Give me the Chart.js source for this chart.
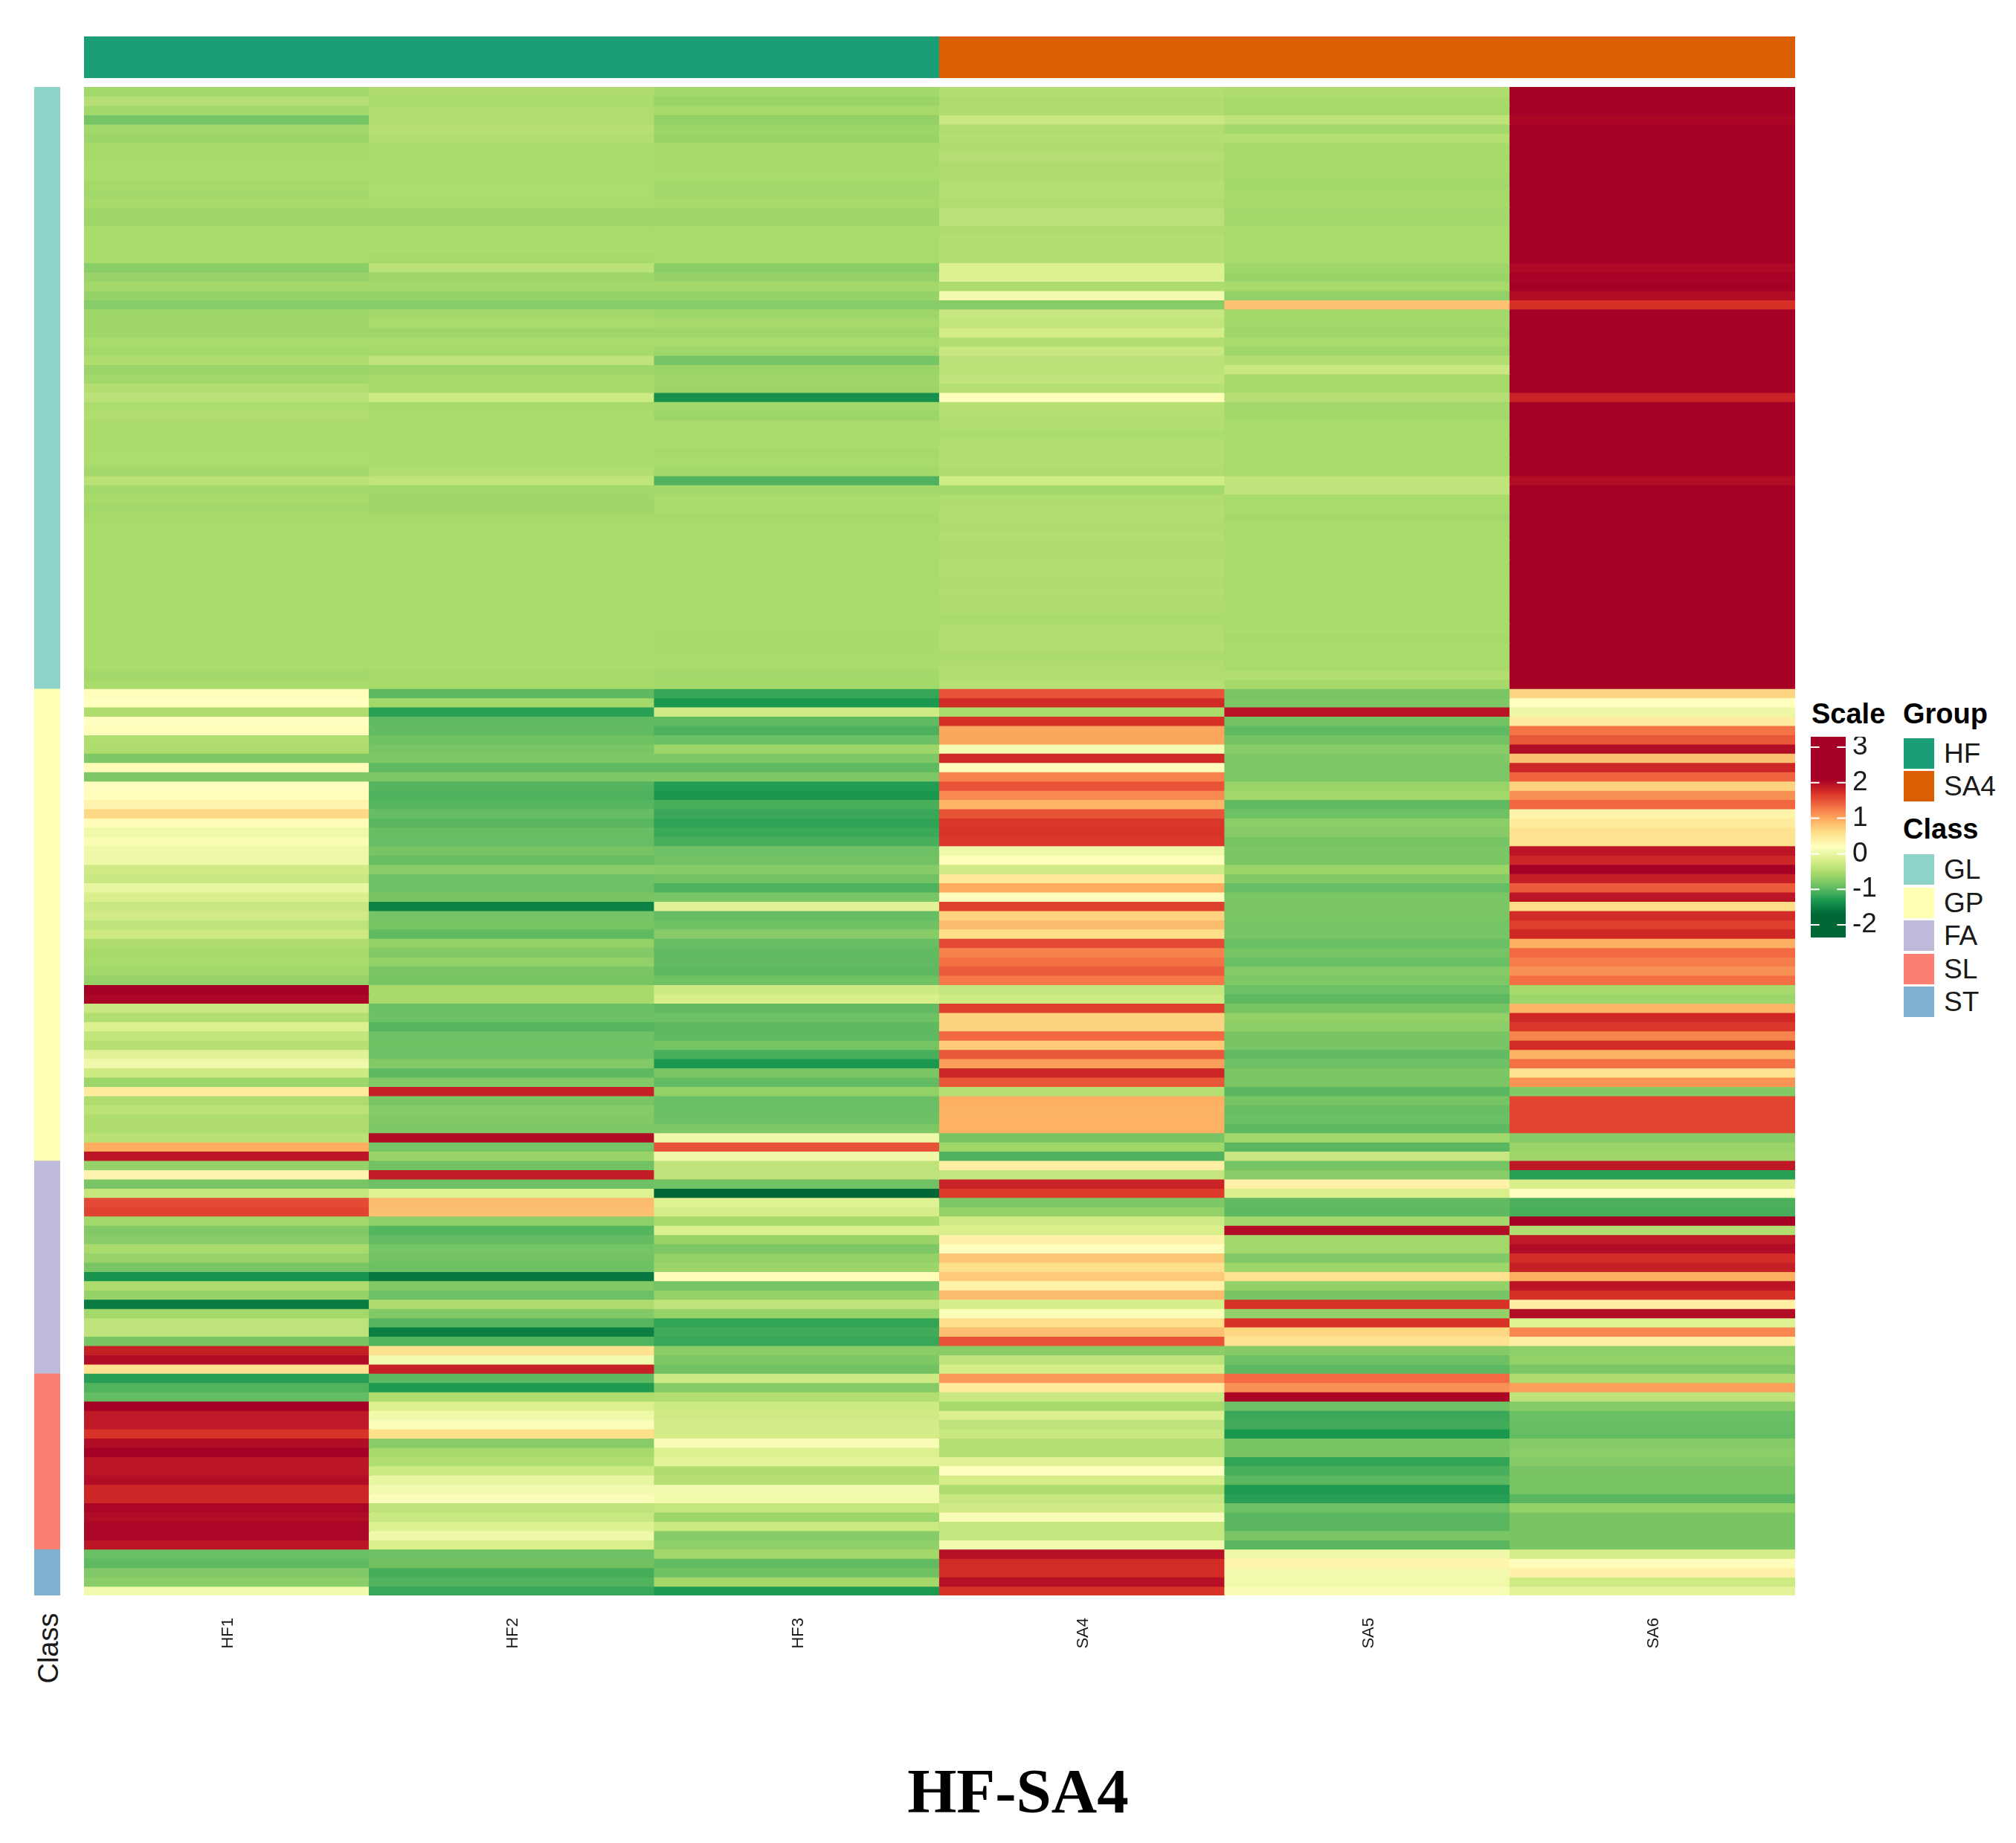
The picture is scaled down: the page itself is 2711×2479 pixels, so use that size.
<!DOCTYPE html>
<html>
<head>
<meta charset="utf-8">
<title>HF-SA4</title>
<script src="https://cdn.jsdelivr.net/npm/chart.js@4"></script>
<style>
  html, body { margin: 0; padding: 0; background: #fff; }
  body { position: relative; width: 2711px; height: 2479px; overflow: hidden; font-family: "Liberation Sans", sans-serif; }
  canvas { position: absolute; }
  .txt { position: absolute; white-space: nowrap; line-height: 42px; font-size: 37px; color: #1a1a1a; }
  .head { font-size: 38px; font-weight: bold; color: #000; }
  .swatch { position: absolute; width: 41px; height: 41px; }
  #classLabel { position: absolute; left: 15px; top: 2196px; width: 100px; text-align: center; font-size: 38px; line-height: 42px; color: #1a1a1a; transform: rotate(-90deg); }
  #title { position: absolute; left: 1069px; top: 2362px; width: 600px; text-align: center; font: bold 85px/94px "Liberation Serif", serif; color: #000; }
</style>
</head>
<body>
<canvas id="groupBar" width="2301" height="56" style="left:113px;top:49px"></canvas>
<canvas id="classBar" width="35" height="2029" style="left:46px;top:117px"></canvas>
<canvas id="heat" width="2301" height="2149" style="left:113px;top:117px"></canvas>
<canvas id="scaleBar" width="120" height="270" style="left:2435px;top:991px"></canvas>
<div id="legend"></div>
<div id="classLabel">Class</div>
<div id="title">HF-SA4</div>

<script>
// Data
const samples = ["HF1", "HF2", "HF3", "SA4", "SA5", "SA6"];
const sampleGroup = [0, 0, 0, 1, 1, 1];
const groupNames = ["HF", "SA4"];
const groupColors = ["#1b9e77", "#d95f02"];
const classNames = ["GL", "GP", "FA", "SL", "ST"];
const classColors = ["#8dd3c7", "#ffffb3", "#bebada", "#fb8072", "#80b1d3"];
const classCounts = [65, 51, 23, 19, 5];
const scaleTicks = [3, 2, 1, 0, -1, -2];

const HF1 = [
  -.58,-.45,-.58,-.85,-.58,-.62,-.55,-.55,-.53,-.53,
  -.56,-.58,-.55,-.59,-.59,-.53,-.53,-.53,-.53,-.72,
  -.64,-.57,-.66,-.74,-.60,-.60,-.60,-.54,-.58,-.50,
  -.63,-.58,-.47,-.40,-.51,-.48,-.52,-.52,-.52,-.51,
  -.51,-.57,-.42,-.58,-.54,-.58,-.56,-.53,-.53,-.53,
  -.53,-.53,-.53,-.53,-.53,-.53,-.53,-.53,-.53,-.53,
  -.53,-.53,-.53,-.57,-.54,
  .22,.20,-.50,.20,.22,-.48,-.50,-.79,.24,-.80,
  .21,.22,.33,.63,.24,.03,.13,.03,.04,-.25,
  -.30,-.02,-.17,-.30,-.25,-.38,-.28,-.50,-.55,-.54,
  -.58,-.65,2.3,2.05,-.30,-.48,-.15,-.35,-.44,-.10,
  .03,-.27,-.62,.45,-.50,-.41,-.50,-.50,-.42,.97,
  1.93,-.66,.33,-.83,-.34,1.55,1.60,-.58,-.78,-.73,
  -.54,-.64,-.83,-1.36,-.50,-.66,-1.55,-.58,-.38,-.38,
  -.83,1.85,2.0,.55,-1.25,-1.04,-.95,2.1,1.9,1.9,
  1.7,2.0,2.1,1.93,1.93,2.0,1.8,1.8,2.05,2.0,
  2.05,2.05,1.93,-.91,-.98,-.78,-.72,.07
];
const HF2 = [
  -.50,-.52,-.49,-.49,-.44,-.47,-.52,-.52,-.52,-.53,
  -.51,-.51,-.53,-.59,-.59,-.54,-.54,-.53,-.56,-.40,
  -.60,-.57,-.66,-.74,-.57,-.54,-.60,-.54,-.56,-.37,
  -.60,-.56,-.56,-.27,-.55,-.53,-.53,-.53,-.53,-.53,
  -.53,-.48,-.36,-.58,-.59,-.59,-.56,-.53,-.53,-.53,
  -.53,-.53,-.53,-.53,-.53,-.53,-.53,-.53,-.53,-.53,
  -.53,-.53,-.53,-.56,-.54,
  -.98,-.58,-1.24,-.97,-.96,-.88,-.83,-.79,-.98,-.80,
  -1.03,-1.06,-1.02,-.94,-1.0,-.92,-.94,-.84,-.92,-.73,
  -.89,-.90,-.83,-1.5,-.85,-.84,-.97,-.68,-.77,-.68,
  -.82,-.84,-.55,-.55,-.91,-.90,-1.02,-.89,-.88,-.90,
  -.77,-.98,-.78,1.85,-.83,-.75,-.77,-.79,2.0,-.85,
  -.64,-.87,1.87,-.90,-.12,.85,.82,-.70,-1.02,-.95,
  -.85,-.87,-.90,-1.57,-.77,-.90,-.50,-.77,-1.02,-1.52,
  -1.04,.55,.07,1.85,-.98,-1.3,-.50,-.15,.05,.15,
  .58,-.73,-.55,-.48,-.27,-.02,.08,.15,-.38,-.30,
  -.14,.05,-.18,-.90,-.87,-1.1,-1.04,-1.17
];
const HF3 = [
  -.58,-.63,-.56,-.67,-.62,-.63,-.55,-.55,-.55,-.53,
  -.58,-.57,-.55,-.59,-.59,-.54,-.53,-.53,-.53,-.72,
  -.65,-.57,-.66,-.74,-.60,-.55,-.60,-.54,-.60,-.85,
  -.63,-.60,-.61,-1.38,-.58,-.62,-.53,-.53,-.53,-.56,
  -.54,-.58,-1.05,-.58,-.53,-.53,-.56,-.53,-.54,-.54,
  -.54,-.54,-.54,-.54,-.54,-.54,-.54,-.54,-.54,-.55,
  -.55,-.54,-.54,-.58,-.58,
  -1.18,-1.32,-.25,-.97,-1.07,-.91,-.60,-.79,-.98,-.80,
  -1.28,-1.33,-1.08,-1.16,-1.21,-1.15,-1.08,-.89,-.87,-.75,
  -.87,-1.06,-.83,-.10,-.94,-.88,-.75,-.93,-.96,-.96,
  -.98,-.88,-.27,-.18,-.96,-.90,-.98,-.98,-.84,-1.08,
  -1.32,-.82,-.96,-.68,-.91,-.91,-.90,-.80,.05,1.5,
  .05,-.38,-.38,-.88,-1.8,-.12,-.20,-.55,-.15,-.63,
  -.80,-.68,-.62,.24,-.85,-.66,-.38,-.66,-1.2,-1.12,
  -1.17,-.72,-.79,-.87,-.26,-.75,-.47,-.27,-.25,-.22,
  -.22,.14,-.15,-.08,-.50,-.44,.08,.05,-.34,-.62,
  -.29,-.75,-.70,-.57,-.96,-.88,-.57,-1.3
];
const SA4 = [
  -.47,-.50,-.50,-.30,-.49,-.47,-.50,-.45,-.50,-.50,
  -.46,-.46,-.49,-.40,-.40,-.50,-.47,-.47,-.47,-.13,
  -.13,-.50,.08,-.74,-.30,-.36,-.22,-.47,-.30,-.40,
  -.41,-.37,-.44,.18,-.44,-.47,-.48,-.51,-.48,-.48,
  -.48,-.50,-.24,-.58,-.50,-.48,-.47,-.50,-.48,-.50,
  -.50,-.48,-.47,-.50,-.48,-.50,-.50,-.52,-.49,-.48,
  -.48,-.52,-.49,-.49,-.44,
  1.5,1.77,-.52,1.72,1.0,1.0,.10,1.77,.23,1.22,
  1.5,1.17,.9,1.5,1.68,1.7,1.68,.04,.23,-.25,
  .47,.97,.22,1.62,.68,.85,.58,1.55,1.22,1.32,
  1.45,1.27,-.33,-.27,1.63,.68,.68,1.37,.75,1.48,
  1.05,1.8,1.48,-.44,.95,.92,.94,.94,-.83,-.60,
  -1.05,.40,-.33,1.83,1.65,-.80,-.68,-.25,-.17,.37,
  .21,.78,.58,.75,.37,.85,-.20,.15,.58,.82,
  1.5,-.72,-.38,-.20,1.08,.45,-.30,-.55,-.15,-.38,
  -.30,-.46,-.46,-.10,.20,-.20,-.50,-.31,-.24,.15,
  -.33,-.33,.07,1.97,1.75,1.75,1.97,1.7
];
const SA5 = [
  -.50,-.55,-.56,-.38,-.58,-.46,-.55,-.55,-.55,-.55,
  -.58,-.55,-.55,-.58,-.58,-.53,-.53,-.53,-.53,-.60,
  -.63,-.55,-.68,.80,-.58,-.58,-.60,-.54,-.60,-.47,
  -.30,-.55,-.55,-.45,-.58,-.58,-.54,-.54,-.54,-.54,
  -.54,-.54,-.37,-.37,-.54,-.54,-.57,-.53,-.53,-.53,
  -.53,-.53,-.53,-.53,-.53,-.53,-.53,-.53,-.53,-.55,
  -.54,-.54,-.54,-.47,-.56,
  -.82,-.80,1.95,-.86,-.97,-.87,-.74,-.79,-.80,-.80,
  -.63,-.58,-.97,-.89,-.72,-.75,-.84,-.81,-.82,-.62,
  -.77,-.94,-.82,-.81,-.82,-.85,-.85,-.91,-.85,-.91,
  -.76,-.79,-.90,-.98,-.84,-.68,-.72,-.83,-.83,-.96,
  -.89,-.81,-.82,-1.0,-.84,-.93,-.91,-.98,-.58,-1.0,
  -.31,-.85,-.73,.37,-.18,-.96,-.98,-.57,2.0,-.58,
  -.58,-.78,-.60,.55,-.68,-.83,1.7,-.67,1.7,.65,
  .55,-.75,-.90,-.98,1.36,1.13,2.05,-.89,-1.16,-1.12,
  -1.32,-.84,-.83,-1.2,-1.08,-1.0,-1.3,-1.25,-.9,-1.0,
  -1.0,-.82,-1.0,.05,.34,.08,.05,.14
];
const SA6 = [
  3,3,3,2.05,3,3,3,3,3,3,
  3,3,3,3,3,3,3,3,3,2.03,
  2.08,2.3,2.0,1.72,3,3,3,3,3,3,
  3,3,3,1.82,3,3,3,3,3,3,
  3,3,2.0,3,3,3,3,3,3,3,
  3,3,3,3,3,3,3,3,3,3,
  3,3,3,3,3,
  .66,.20,.02,.43,1.3,1.48,2.0,.82,1.8,1.4,
  .68,1.13,1.38,.35,.45,.55,.55,1.93,1.8,2.1,
  1.85,1.45,1.93,.6,1.75,1.63,1.78,.95,1.36,1.25,
  1.13,1.33,-.55,-.62,.9,1.78,1.67,1.2,1.75,.92,
  1.32,.55,1.12,-.77,1.58,1.58,1.58,1.58,-.75,-.63,
  -.60,1.9,-1.25,-.17,.20,-1.07,-1.08,2.3,-.48,1.9,
  2.0,1.75,1.85,.95,1.93,1.72,.40,2.0,-.12,1.18,
  .40,-.70,-.67,-.81,-.50,1.05,-.38,-.75,-.91,-.92,
  -.95,-.75,-.72,-.75,-.83,-.84,-.84,-1.0,-.66,-.83,
  -.83,-.83,-.83,-.20,.22,.37,-.27,-.08
];
const columns = [HF1, HF2, HF3, SA4, SA5, SA6];

// Colour scale
const rampValues = [-1.7, -1.32, -.94, -.56, -.18, .2, .58, .96, 1.34, 1.72, 2.1];
const rampColors = ["#006837", "#1a9850", "#66bd63", "#a6d96a", "#d9ef8b", "#ffffbf",
                    "#fee08b", "#fdae61", "#f46d43", "#d73027", "#a50026"];

function hexToRgb(hex) {
  const n = parseInt(hex.slice(1), 16);
  return [n >> 16, (n >> 8) & 255, n & 255];
}

function valueColor(v) {
  if (v <= rampValues[0]) return rampColors[0];
  for (let i = 1; i < rampValues.length; i++) {
    if (v <= rampValues[i]) {
      const t = (v - rampValues[i - 1]) / (rampValues[i] - rampValues[i - 1]);
      const a = hexToRgb(rampColors[i - 1]);
      const b = hexToRgb(rampColors[i]);
      return `rgb(${a.map((c, k) => Math.round(c + (b[k] - c) * t)).join(",")})`;
    }
  }
  return rampColors[rampColors.length - 1];
}

Chart.defaults.animation = false;
Chart.defaults.responsive = false;
Chart.defaults.font.family = '"Liberation Sans", sans-serif';
Chart.defaults.plugins.legend.display = false;
Chart.defaults.plugins.tooltip.enabled = false;

const rowCount = HF1.length;

// Heatmap: one stacked dataset per row
const heatDatasets = [];
for (let r = 0; r < rowCount; r++) {
  heatDatasets.push({
    data: samples.map(() => 1),
    backgroundColor: columns.map(col => valueColor(col[r])),
    barPercentage: 1,
    categoryPercentage: 1,
    inflateAmount: 0.6
  });
}

new Chart(document.getElementById("heat"), {
  type: "bar",
  data: { labels: samples, datasets: heatDatasets },
  options: {
    scales: {
      x: {
        stacked: true,
        grid: { display: false },
        border: { display: false },
        afterFit: scale => { scale.height = 120; },
        ticks: { autoSkip: false, minRotation: 90, maxRotation: 90, padding: 22, labelOffset: 2, color: "#1a1a1a", font: { size: 22 } }
      },
      y: { stacked: true, display: false, reverse: true, min: 0, max: rowCount }
    }
  }
});

// Group bar on top
new Chart(document.getElementById("groupBar"), {
  type: "bar",
  data: {
    labels: samples,
    datasets: [{
      data: samples.map(() => 1),
      backgroundColor: sampleGroup.map(g => groupColors[g]),
      barPercentage: 1,
      categoryPercentage: 1,
      inflateAmount: 0.6
    }]
  },
  options: {
    scales: {
      x: { display: false },
      y: { display: false, min: 0, max: 1 }
    }
  }
});

// Class bar on the left
new Chart(document.getElementById("classBar"), {
  type: "bar",
  data: {
    labels: ["Class"],
    datasets: classNames.map((name, i) => ({
      label: name,
      data: [classCounts[i]],
      backgroundColor: classColors[i],
      barPercentage: 1,
      categoryPercentage: 1
    }))
  },
  options: {
    scales: {
      x: { stacked: true, display: false },
      y: { stacked: true, display: false, reverse: true, min: 0, max: rowCount }
    }
  }
});

// Colour key
const scaleMin = -2.356;
const scaleMax = 3.293;

// white tick marks and labels, placed with the chart's own y scale
const scaleKeyTicks = {
  id: "scaleKeyTicks",
  afterDatasetsDraw(chart) {
    const { ctx, chartArea, scales } = chart;
    ctx.save();
    ctx.strokeStyle = "#fff";
    ctx.lineWidth = 2;
    ctx.fillStyle = "#1a1a1a";
    ctx.font = '37px "Liberation Sans", sans-serif';
    ctx.textAlign = "left";
    ctx.textBaseline = "middle";
    scaleTicks.forEach(t => {
      const y = scales.y.getPixelForValue(t);
      ctx.beginPath();
      ctx.moveTo(chartArea.left, y);
      ctx.lineTo(chartArea.left + 11.7, y);
      ctx.moveTo(chartArea.right - 11.7, y);
      ctx.lineTo(chartArea.right, y);
      ctx.stroke();
      ctx.fillText(String(t), chartArea.right + 9, y);
    });
    ctx.restore();
  }
};

new Chart(document.getElementById("scaleBar"), {
  type: "bar",
  data: {
    labels: ["Scale"],
    datasets: [{
      data: [[scaleMin, scaleMax]],
      barPercentage: 1,
      categoryPercentage: 1,
      backgroundColor(context) {
        const { chart } = context;
        if (!chart.chartArea) return rampColors[0];
        const y = chart.scales.y;
        const top = y.getPixelForValue(scaleMax);
        const bottom = y.getPixelForValue(scaleMin);
        const g = chart.ctx.createLinearGradient(0, bottom, 0, top);
        rampValues.forEach((v, i) => {
          g.addColorStop((y.getPixelForValue(v) - bottom) / (top - bottom), rampColors[i]);
        });
        return g;
      }
    }]
  },
  options: {
    layout: { padding: { right: 73 } },
    scales: {
      x: { display: false },
      y: { display: false, min: scaleMin, max: scaleMax }
    }
  },
  plugins: [scaleKeyTicks]
});

// Legend text and swatches
const legend = document.getElementById("legend");

function addText(text, left, baseline, isHead) {
  const el = document.createElement("div");
  el.className = isHead ? "txt head" : "txt";
  el.textContent = text;
  el.style.left = left + "px";
  el.style.top = (baseline - 34) + "px";
  legend.appendChild(el);
}

function addSwatch(color, top) {
  const el = document.createElement("div");
  el.className = "swatch";
  el.style.left = "2560px";
  el.style.top = top + "px";
  el.style.background = color;
  legend.appendChild(el);
}

addText("Scale", 2436, 973, true);
addText("Group", 2559, 973, true);
addText("Class", 2559, 1128, true);

groupNames.forEach((name, i) => {
  addSwatch(groupColors[i], 993 + i * 44.4);
  addText(name, 2614, 1027 + i * 43.5);
});
classNames.forEach((name, i) => {
  addSwatch(classColors[i], 1149 + i * 44.5);
  addText(name, 2614, 1183 + i * 44.5);
});
</script>
</body>
</html>
